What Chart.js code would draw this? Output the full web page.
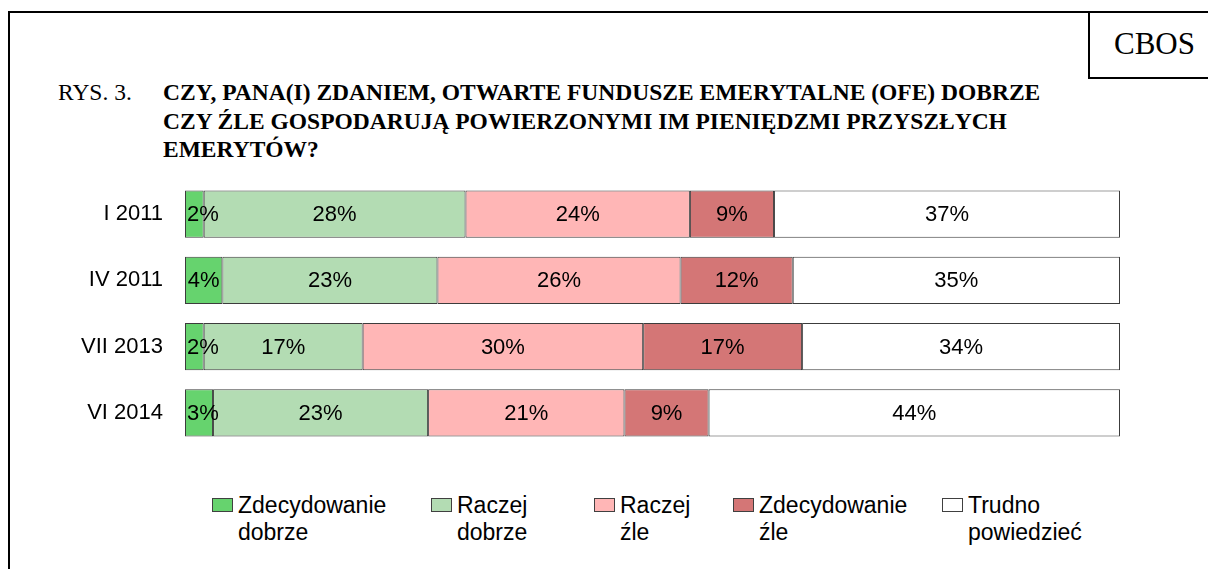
<!DOCTYPE html>
<html>
<head>
<meta charset="utf-8">
<script src="https://cdn.jsdelivr.net/npm/chart.js@4.4.1/dist/chart.umd.min.js"></script>
<style>
  body { margin: 0; background: #fff; }
  #page { position: relative; width: 1208px; height: 569px; overflow: hidden; background: #fff; }
  #frame { position: absolute; left: 8px; top: 11px; width: 1300px; height: 700px; border: 2px solid #000; }
  #cbos { position: absolute; left: 1088px; top: 11px; width: 200px; height: 64px; border: 2px solid #000;
    font-family: "Liberation Serif", "Times New Roman", serif; font-size: 31px; }
  #cbos span { position: absolute; left: 24px; top: 13px; line-height: 36px; }
  .serif { font-family: "Liberation Serif", "Times New Roman", serif; font-size: 23.5px; line-height: 28.5px;
    position: absolute; white-space: nowrap; color: #000; }
  #rys { left: 58px; top: 78px; }
  #title { left: 163px; top: 78px; font-weight: bold; }
  canvas { position: absolute; left: 0; top: 181px; }
  .leg { position: absolute; top: 492px; font-family: "Liberation Sans", Arial, sans-serif; font-size: 23px;
    line-height: 27px; color: #000; white-space: nowrap; }
  .leg i { position: absolute; left: -26px; top: 6px; width: 19px; height: 12px; border: 1px solid #404040; }
</style>
</head>
<body>
<div id="page">
  <div id="frame"></div>
  <div id="cbos"><span>CBOS</span></div>
  <div id="rys" class="serif">RYS. 3.</div>
  <div id="title" class="serif">CZY, PANA(I) ZDANIEM, OTWARTE FUNDUSZE EMERYTALNE (OFE) DOBRZE<br>CZY ŹLE GOSPODARUJĄ POWIERZONYMI IM PIENIĘDZMI PRZYSZŁYCH<br>EMERYTÓW?</div>
  <canvas id="chart" width="1120" height="265"></canvas>
  <div id="legend"></div>
</div>
<script>
const periods = ['I 2011', 'IV 2011', 'VII 2013', 'VI 2014'];
const zdecydowanieDobrze = [2, 4, 2, 3];
const raczejDobrze = [28, 23, 17, 23];
const raczejZle = [24, 26, 30, 21];
const zdecydowanieZle = [9, 12, 17, 9];
const trudnoPowiedziec = [37, 35, 34, 44];

const seriesNames = [['Zdecydowanie', 'dobrze'], ['Raczej', 'dobrze'], ['Raczej', 'źle'], ['Zdecydowanie', 'źle'], ['Trudno', 'powiedzieć']];
const seriesColors = ['#66d36e', '#b3dcb3', '#ffb6b6', '#d47676', '#ffffff'];
const seriesValues = [zdecydowanieDobrze, raczejDobrze, raczejZle, zdecydowanieZle, trudnoPowiedziec];
const legendX = [238, 457, 620, 759, 968];

// labels in the middle of each segment, kept inside the plot area like Excel does
const segmentLabels = {
	id: 'segmentLabels',
	afterDatasetsDraw(chart) {
		const ctx = chart.ctx;
		const area = chart.chartArea;
		ctx.save();
		ctx.font = '22px "Liberation Sans", Arial, sans-serif';
		ctx.fillStyle = '#000';
		ctx.textAlign = 'center';
		ctx.textBaseline = 'middle';
		chart.data.datasets.forEach((ds, i) => {
			chart.getDatasetMeta(i).data.forEach((bar, j) => {
				const text = ds.data[j] + '%';
				const w = ctx.measureText(text).width;
				let x = (bar.x + bar.base) / 2;
				if(x - w / 2 < area.left + 2) {
					x = area.left + 2 + w / 2;
				}
				ctx.fillText(text, x, bar.y + 1);
			});
		});
		ctx.restore();
	}
};

const chart = new Chart(document.getElementById('chart'), {
	type: 'bar',
	data: {
		labels: periods,
		datasets: seriesValues.map((vals, i) => ({
			label: seriesNames[i].join(' '),
			data: vals,
			backgroundColor: seriesColors[i],
			borderColor: '#3c3c3c',
			borderWidth: 1,
			borderSkipped: false,
			categoryPercentage: 1,
			barPercentage: 0.71
		}))
	},
	options: {
		indexAxis: 'y',
		responsive: false,
		animation: false,
		layout: { padding: 0 },
		plugins: {
			legend: { display: false },
			tooltip: { enabled: false }
		},
		scales: {
			x: { stacked: true, min: 0, max: 100, display: false },
			y: {
				stacked: true,
				grid: { display: false, drawTicks: false },
				border: { display: false },
				ticks: {
					padding: 22,
					color: '#000',
					font: { family: '"Liberation Sans", Arial, sans-serif', size: 22 }
				},
				afterFit(scale) {
					scale.width = 185;
					// tick padding should only push labels sideways
					scale.paddingTop = 0;
					scale.paddingBottom = 0;
				}
			}
		}
	},
	plugins: [segmentLabels]
});

let legend = document.getElementById('legend');
seriesNames.forEach((name, i) => {
	legend.innerHTML += `<div class="leg" style="left:${legendX[i]}px"><i style="background:${seriesColors[i]}"></i>${name[0]}<br>${name[1]}</div>`;
});
</script>
</body>
</html>
